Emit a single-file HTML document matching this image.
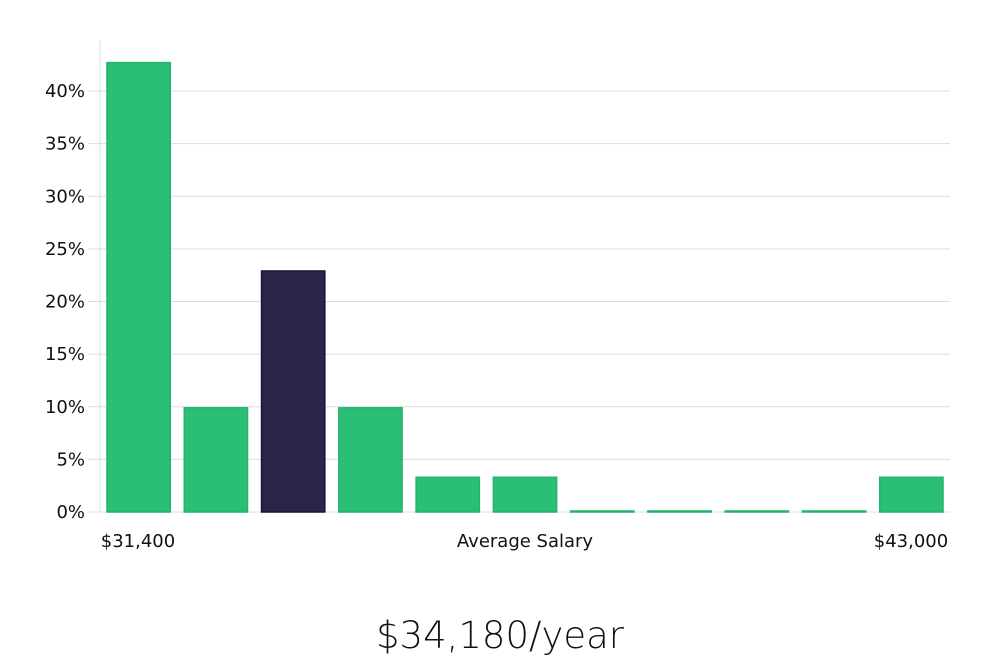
<!DOCTYPE html>
<html><head><meta charset="utf-8"><style>
html,body{margin:0;padding:0;background:#fff;}
svg{display:block;font-family:"DejaVu Sans","Liberation Sans",sans-serif;}
</style></head><body>
<svg id="chart" width="1000" height="660">
<g id="grid"></g>
<line x1="100" y1="40" x2="100" y2="512" stroke="#ddd" stroke-width="1"/>
<g id="yticks"></g>
<g id="bars"></g>
<text x="138" y="547" font-size="18" text-anchor="middle" fill="#111">$31,400</text>
<text x="525" y="547" font-size="18" text-anchor="middle" fill="#111">Average Salary</text>
<text x="911" y="547" font-size="18" text-anchor="middle" fill="#111">$43,000</text>
<text x="500" y="648" font-size="37" text-anchor="middle" fill="#111" font-weight="300">$34,180/year</text>
</svg>
<script>
const values = [42.7, 9.9, 22.9, 9.9, 3.3, 3.3, 0, 0, 0, 0, 3.3];
const highlight = [false, false, true, false, false, false, false, false, false, false, false];
const yTicks = [0, 5, 10, 15, 20, 25, 30, 35, 40];
const NS = "http://www.w3.org/2000/svg";
const x0 = 100, x1 = 950, yBase = 512, yPerPct = 10.525;
const y = v => yBase - v * yPerPct;
const band = (x1 - x0) / values.length;
const grid = document.getElementById('grid'), yt = document.getElementById('yticks'), bars = document.getElementById('bars');
yTicks.forEach(t => {
  const l = document.createElementNS(NS, 'line');
  
  
  l.setAttribute('x1', 88); l.setAttribute('x2', x1);
  l.setAttribute('y1', y(t)); l.setAttribute('y2', y(t));
  l.setAttribute('stroke', '#ddd'); l.setAttribute('stroke-width', 1);
  grid.appendChild(l);
  const tx = document.createElementNS(NS, 'text');
  
  
  tx.setAttribute('x', 85); tx.setAttribute('y', y(t) + 6);
  tx.setAttribute('text-anchor', 'end'); tx.setAttribute('font-size', 18); tx.setAttribute('fill', '#111');
  tx.textContent = t + '%';
  yt.appendChild(tx);
});
values.forEach((v, i) => {
  const r = document.createElementNS(NS, 'rect');
  
  
  const bx = x0 + i * band + 7;
  const h = Math.max(v * yPerPct, 1);
  r.setAttribute('x', bx); r.setAttribute('width', band - 14);
  r.setAttribute('y', yBase - h); r.setAttribute('height', h);
  r.setAttribute('fill', highlight[i] ? '#29264a' : '#2bbf76');
  r.setAttribute('stroke', highlight[i] ? '#16143a' : '#22b46a');
  r.setAttribute('stroke-width', 1.5);
  bars.appendChild(r);
});
</script>
</body></html>
